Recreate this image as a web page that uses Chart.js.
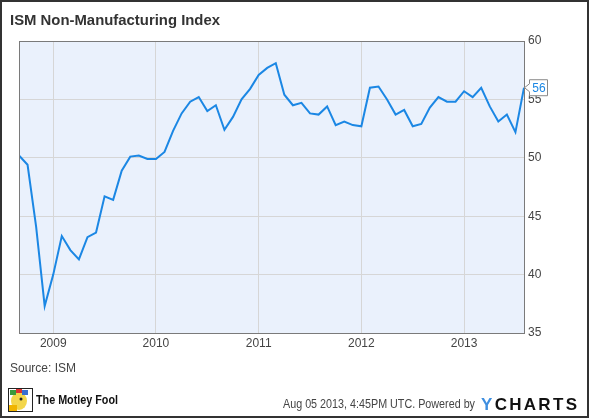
<!DOCTYPE html>
<html>
<head>
<meta charset="utf-8">
<script src="https://cdn.jsdelivr.net/npm/chart.js@4"></script>
<style>
  html, body { margin: 0; padding: 0; background: #fff; }
  #wrap { width: 590px; height: 419px; position: relative; }
</style>
</head>
<body>
<div id="wrap"><canvas id="myChart" width="590" height="419"></canvas></div>
<script>
// Monthly readings, end of month (Aug 2008 .. Jul 2013)
let months = [
  'Aug 2008','Sep 2008','Oct 2008','Nov 2008','Dec 2008',
  'Jan 2009','Feb 2009','Mar 2009','Apr 2009','May 2009','Jun 2009','Jul 2009','Aug 2009','Sep 2009','Oct 2009','Nov 2009','Dec 2009',
  'Jan 2010','Feb 2010','Mar 2010','Apr 2010','May 2010','Jun 2010','Jul 2010','Aug 2010','Sep 2010','Oct 2010','Nov 2010','Dec 2010',
  'Jan 2011','Feb 2011','Mar 2011','Apr 2011','May 2011','Jun 2011','Jul 2011','Aug 2011','Sep 2011','Oct 2011','Nov 2011','Dec 2011',
  'Jan 2012','Feb 2012','Mar 2012','Apr 2012','May 2012','Jun 2012','Jul 2012','Aug 2012','Sep 2012','Oct 2012','Nov 2012','Dec 2012',
  'Jan 2013','Feb 2013','Mar 2013','Apr 2013','May 2013','Jun 2013','Jul 2013'
];
let ismValues = [
  50.2, 49.4, 44.1, 37.3, 40.0,
  43.3, 42.1, 41.3, 43.2, 43.6, 46.7, 46.4, 48.9, 50.1, 50.2, 49.9, 49.9,
  50.5, 52.3, 53.8, 54.8, 55.2, 54.0, 54.5, 52.4, 53.5, 55.0, 55.9, 57.1,
  57.7, 58.1, 55.4, 54.5, 54.7, 53.8, 53.7, 54.4, 52.8, 53.1, 52.8, 52.7,
  56.0, 56.1, 55.0, 53.7, 54.1, 52.7, 52.9, 54.3, 55.2, 54.8, 54.8, 55.7,
  55.2, 56.0, 54.4, 53.1, 53.7, 52.2, 56.0
];
let yearLabels = ['2009', '2010', '2011', '2012', '2013'];
let yearTicks = [0, 12, 24, 36, 48]; // months after Jan 1 2009
let yTicks = [35, 40, 45, 50, 55, 60];

// x = months from Jan 1 2009; a month-end reading sits at the start of the next month
let firstX = -4;
let points = ismValues.map((v, i) => ({ x: firstX + i, y: v }));

// draw text squeezed to a given width
function fitText(c, text, x, y, width) {
  let w = c.measureText(text).width;
  c.save();
  c.translate(x, y);
  c.scale(Math.min(1, width / w), 1);
  c.fillText(text, 0, 0);
  c.restore();
}

let frame = {
  id: 'frame',
  beforeDraw(chart) {
    let c = chart.ctx, a = chart.chartArea;
    c.save();
    c.fillStyle = '#fff';
    c.fillRect(0, 0, chart.width, chart.height);
    c.fillStyle = '#eaf1fc';
    c.fillRect(a.left, a.top, a.right - a.left, a.bottom - a.top);
    c.restore();
  },
  afterDraw(chart) {
    let c = chart.ctx, a = chart.chartArea;
    c.save();
    // plot border
    c.strokeStyle = '#7a7a7a';
    c.lineWidth = 1;
    c.strokeRect(Math.round(a.left) + 0.5, Math.round(a.top) + 0.5,
      Math.round(a.right - a.left), Math.round(a.bottom - a.top));

    // outer frame
    c.strokeStyle = '#333';
    c.lineWidth = 2;
    c.strokeRect(1, 1, chart.width - 3, chart.height - 3);

    // title
    c.fillStyle = '#333';
    c.font = 'bold 15px "Liberation Sans", Arial, sans-serif';
    c.textBaseline = 'middle';
    c.textAlign = 'left';
    fitText(c, 'ISM Non-Manufacturing Index', 10, 21, 210);

    // source
    c.fillStyle = '#444';
    c.font = '12px "Liberation Sans", Arial, sans-serif';
    c.fillText('Source: ISM', 10, 369);

    // timestamp
    fitText(c, 'Aug 05 2013, 4:45PM UTC. Powered by', 283, 405, 192);

    // YCHARTS wordmark
    c.font = 'bold 17px "Liberation Sans", Arial, sans-serif';
    let x = 481;
    'YCHARTS'.split('').forEach((ch, i) => {
      c.fillStyle = i === 0 ? '#3f8fe0' : '#111';
      c.fillText(ch, x, 405);
      x += c.measureText(ch).width + 2.3;
    });

    // Motley Fool logo
    c.fillStyle = '#fff';
    c.strokeStyle = '#222';
    c.lineWidth = 1;
    c.fillRect(8.5, 388.5, 24, 23);
    c.strokeRect(8.5, 388.5, 24, 23);
    c.fillStyle = '#f3d64a';
    c.beginPath(); c.ellipse(19, 401, 8, 9, 0, 0, Math.PI * 2); c.fill();
    c.fillStyle = '#3b9a3b'; c.fillRect(10, 390, 6, 5);
    c.fillStyle = '#d33'; c.fillRect(16, 389, 6, 4);
    c.fillStyle = '#3a6fd0'; c.fillRect(22, 390, 6, 5);
    c.fillStyle = '#222';
    c.beginPath(); c.arc(21, 399, 1.5, 0, Math.PI * 2); c.fill();
    c.fillStyle = '#f0b400'; c.fillRect(9, 405, 8, 6);
    c.fillStyle = '#111';
    c.font = 'bold 13px "Liberation Sans", Arial, sans-serif';
    fitText(c, 'The Motley Fool', 36, 400, 82);

    // last value callout
    let meta = chart.getDatasetMeta(0);
    let last = meta.data[meta.data.length - 1];
    let px = last.x, py = last.y;
    let bx = px + 5, bw = 18, bh = 16;
    c.fillStyle = '#fff';
    c.strokeStyle = '#888';
    c.lineWidth = 1;
    c.beginPath();
    c.moveTo(px + 0.5, py);
    c.lineTo(bx + 0.5, py - 4);
    c.lineTo(bx + 0.5, py - bh / 2);
    c.lineTo(bx + bw + 0.5, py - bh / 2);
    c.lineTo(bx + bw + 0.5, py + bh / 2);
    c.lineTo(bx + 0.5, py + bh / 2);
    c.lineTo(bx + 0.5, py + 4);
    c.closePath();
    c.fill();
    c.stroke();
    c.fillStyle = '#1b87e4';
    c.font = '12px "Liberation Sans", Arial, sans-serif';
    c.textAlign = 'center';
    c.fillText(Math.round(ismValues[ismValues.length - 1]).toString(), bx + bw / 2 + 1, py + 1);
    c.restore();
  }
};

let ctx = document.getElementById('myChart').getContext('2d');

Chart.defaults.font.family = '"Liberation Sans", Arial, sans-serif';
Chart.defaults.font.size = 12;
Chart.defaults.color = '#444';

let ismChart = new Chart(ctx, {
  type: 'line',
  data: {
    labels: months,
    datasets: [{
      label: 'ISM Non-Manufacturing Index',
      data: points,
      borderColor: '#1b87e4',
      borderWidth: 2,
      pointRadius: 0,
      tension: 0,
      fill: false
    }]
  },
  options: {
    responsive: false,
    animation: false,
    events: [],
    layout: {
      padding: { left: 19, top: 41, right: 0, bottom: 0 }
    },
    plugins: {
      legend: { display: false },
      tooltip: { enabled: false }
    },
    scales: {
      x: {
        type: 'linear',
        min: firstX,
        max: firstX + ismValues.length - 1,
        afterBuildTicks(scale) {
          scale.ticks = yearTicks.map(v => ({ value: v }));
        },
        afterFit(scale) { scale.height = 86; },
        ticks: {
          callback: (v) => yearLabels[yearTicks.indexOf(v)],
          padding: 3,
          maxRotation: 0,
          color: '#444'
        },
        grid: { color: '#d6d6d6', drawTicks: false },
        border: { display: false }
      },
      y: {
        position: 'right',
        min: 35,
        max: 60,
        afterBuildTicks(scale) {
          scale.ticks = yTicks.map(v => ({ value: v }));
        },
        afterFit(scale) { scale.width = 66; },
        ticks: { padding: 4, color: '#444' },
        grid: { color: '#d6d6d6', drawTicks: false },
        border: { display: false }
      }
    }
  },
  plugins: [frame]
});
</script>
</body>
</html>
